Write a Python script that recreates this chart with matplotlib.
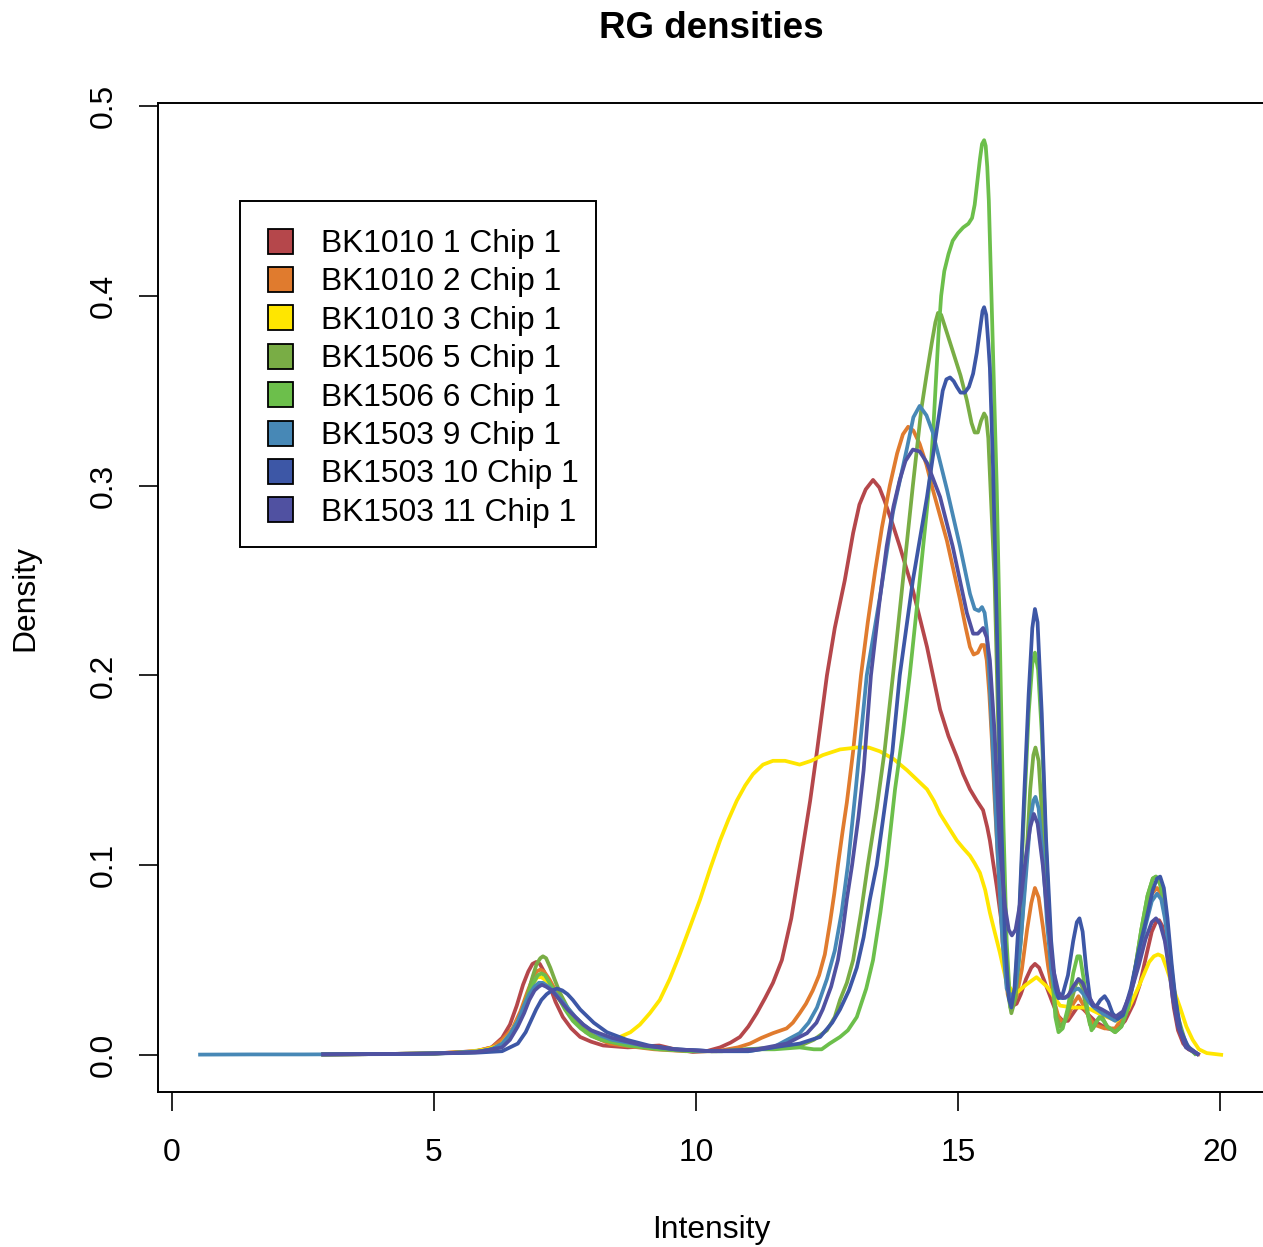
import matplotlib
matplotlib.use("Agg")
import matplotlib.pyplot as plt
import numpy as np
from matplotlib.patches import Rectangle
from matplotlib.transforms import Affine2D

plt.rcParams['font.family'] = ['Liberation Sans', 'DejaVu Sans']

# Density estimates (intensity, density) for each array
bk1010_1 = np.array([
    (2.85, 0.0003), (4.0, 0.0005), (5.0, 0.0008), (5.8, 0.002), (6.1, 0.004),
    (6.3, 0.009), (6.45, 0.016), (6.58, 0.026), (6.7, 0.037), (6.8, 0.044),
    (6.88, 0.048), (6.95, 0.049), (7.02, 0.048), (7.1, 0.044), (7.2, 0.037),
    (7.32, 0.028), (7.46, 0.020), (7.62, 0.014), (7.79, 0.0095), (8.0, 0.007),
    (8.23, 0.005), (8.7, 0.004), (9.0, 0.0045), (9.3, 0.005), (9.6, 0.003),
    (9.94, 0.0016), (10.2, 0.002), (10.46, 0.004), (10.66, 0.0065), (10.84, 0.0095),
    (11.0, 0.015), (11.16, 0.022), (11.32, 0.03), (11.47, 0.038), (11.64, 0.050),
    (11.82, 0.072), (11.98, 0.099), (12.18, 0.134), (12.31, 0.160), (12.5, 0.200),
    (12.65, 0.225), (12.84, 0.250), (13.0, 0.275), (13.12, 0.29), (13.24, 0.298),
    (13.38, 0.303), (13.5, 0.299), (13.6, 0.292), (13.75, 0.28), (13.89, 0.268),
    (14.14, 0.245), (14.41, 0.215), (14.66, 0.182), (14.82, 0.168), (14.98, 0.157),
    (15.1, 0.148), (15.23, 0.140), (15.36, 0.134), (15.48, 0.129), (15.56, 0.12),
    (15.61, 0.113), (15.68, 0.1), (15.74, 0.089), (15.86, 0.064), (15.93, 0.045),
    (15.99, 0.033), (16.05, 0.026), (16.12, 0.027), (16.2, 0.032), (16.3, 0.04),
    (16.4, 0.046), (16.47, 0.048), (16.55, 0.046), (16.65, 0.039), (16.8, 0.028),
    (16.9, 0.021), (17.0, 0.018), (17.1, 0.018), (17.2, 0.022), (17.3, 0.026),
    (17.4, 0.024), (17.5, 0.021), (17.65, 0.017), (17.85, 0.014), (18.03, 0.013),
    (18.19, 0.018), (18.35, 0.027), (18.47, 0.037), (18.6, 0.053), (18.7, 0.065),
    (18.78, 0.07), (18.84, 0.071), (18.9, 0.068), (18.98, 0.057), (19.05, 0.042),
    (19.12, 0.025), (19.2, 0.013), (19.3, 0.006), (19.4, 0.003), (19.62, 0.0),
])

bk1010_2 = np.array([
    (2.85, 0.0003), (4.0, 0.0005), (5.0, 0.0008), (5.8, 0.002), (6.1, 0.004),
    (6.3, 0.008), (6.5, 0.014), (6.65, 0.023), (6.78, 0.033), (6.88, 0.040),
    (6.96, 0.044), (7.03, 0.045), (7.1, 0.044), (7.2, 0.040), (7.3, 0.035),
    (7.4, 0.030), (7.55, 0.024), (7.7, 0.018), (7.9, 0.012), (8.1, 0.009),
    (8.35, 0.006), (8.6, 0.005), (9.2, 0.003), (9.8, 0.002), (10.4, 0.002),
    (10.8, 0.004), (11.03, 0.006), (11.25, 0.009), (11.47, 0.0115), (11.73, 0.014),
    (11.85, 0.017), (11.98, 0.022), (12.1, 0.027), (12.23, 0.034), (12.35, 0.042),
    (12.46, 0.053), (12.56, 0.07), (12.64, 0.085), (12.71, 0.1), (12.8, 0.118),
    (12.88, 0.133), (13.0, 0.16), (13.15, 0.2), (13.28, 0.228), (13.42, 0.255),
    (13.55, 0.278), (13.7, 0.3), (13.84, 0.317), (13.95, 0.327), (14.05, 0.331),
    (14.15, 0.329), (14.27, 0.322), (14.4, 0.311), (14.52, 0.298), (14.79, 0.271),
    (15.04, 0.240), (15.15, 0.225), (15.23, 0.215), (15.3, 0.211), (15.38, 0.212),
    (15.45, 0.216), (15.5, 0.216), (15.55, 0.208), (15.6, 0.19), (15.65, 0.165),
    (15.7, 0.135), (15.75, 0.11), (15.85, 0.06), (15.95, 0.032), (16.03, 0.026),
    (16.12, 0.031), (16.22, 0.045), (16.32, 0.066), (16.4, 0.08), (16.47, 0.088),
    (16.54, 0.083), (16.62, 0.068), (16.72, 0.047), (16.82, 0.03), (16.92, 0.02),
    (17.0, 0.017), (17.1, 0.02), (17.2, 0.027), (17.3, 0.031), (17.4, 0.026),
    (17.5, 0.02), (17.6, 0.016), (17.8, 0.014), (18.0, 0.014), (18.15, 0.02),
    (18.3, 0.033), (18.45, 0.055), (18.58, 0.073), (18.7, 0.085), (18.8, 0.088),
    (18.88, 0.085), (18.95, 0.075), (19.03, 0.055), (19.1, 0.035), (19.2, 0.017),
    (19.35, 0.005), (19.6, 0.0),
])

bk1010_3 = np.array([
    (2.85, 0.0003), (4.0, 0.0005), (5.0, 0.0008), (5.6, 0.0015), (6.0, 0.003),
    (6.26, 0.005), (6.45, 0.011), (6.64, 0.02), (6.8, 0.031), (6.88, 0.037),
    (6.97, 0.041), (7.05, 0.041), (7.15, 0.039), (7.27, 0.034), (7.5, 0.025),
    (7.79, 0.015), (8.05, 0.010), (8.3, 0.008), (8.55, 0.0095), (8.75, 0.012),
    (8.93, 0.016), (9.12, 0.022), (9.31, 0.029), (9.5, 0.04), (9.69, 0.053),
    (9.88, 0.067), (10.08, 0.082), (10.27, 0.098), (10.46, 0.113), (10.62, 0.124),
    (10.78, 0.134), (10.94, 0.142), (11.09, 0.148), (11.28, 0.153), (11.47, 0.155),
    (11.7, 0.155), (11.98, 0.153), (12.2, 0.155), (12.42, 0.158), (12.75, 0.161),
    (13.07, 0.162), (13.3, 0.162), (13.51, 0.160), (13.77, 0.156), (14.03, 0.150),
    (14.22, 0.145), (14.41, 0.140), (14.54, 0.134), (14.66, 0.127), (14.82, 0.120),
    (14.98, 0.113), (15.1, 0.109), (15.23, 0.105), (15.32, 0.101), (15.42, 0.096),
    (15.52, 0.087), (15.61, 0.075), (15.7, 0.065), (15.8, 0.054), (15.93, 0.038),
    (16.03, 0.034), (16.13, 0.033), (16.3, 0.037), (16.5, 0.041), (16.7, 0.036),
    (16.95, 0.026), (17.2, 0.025), (17.46, 0.025), (17.75, 0.021), (18.03, 0.018),
    (18.25, 0.024), (18.45, 0.036), (18.65, 0.049), (18.74, 0.052), (18.82, 0.053),
    (18.9, 0.052), (18.98, 0.046), (19.1, 0.036), (19.24, 0.025), (19.36, 0.015),
    (19.48, 0.008), (19.6, 0.003), (19.75, 0.001), (20.06, 0.0),
])

bk1506_5 = np.array([
    (2.85, 0.0003), (4.0, 0.0005), (5.0, 0.0008), (5.8, 0.0015), (6.1, 0.003),
    (6.3, 0.005), (6.5, 0.011), (6.65, 0.02), (6.78, 0.031), (6.88, 0.041),
    (6.96, 0.048), (7.03, 0.051), (7.08, 0.052), (7.14, 0.051), (7.22, 0.046),
    (7.3, 0.040), (7.4, 0.033), (7.55, 0.025), (7.7, 0.019), (7.8, 0.016),
    (8.0, 0.011), (8.2, 0.008), (8.7, 0.005), (9.3, 0.004), (9.9, 0.002),
    (10.5, 0.002), (11.0, 0.003), (11.5, 0.004), (12.0, 0.005), (12.25, 0.008),
    (12.5, 0.013), (12.65, 0.02), (12.75, 0.029), (12.88, 0.038), (13.0, 0.05),
    (13.15, 0.075), (13.28, 0.1), (13.45, 0.13), (13.6, 0.16), (13.76, 0.2),
    (13.95, 0.25), (14.14, 0.3), (14.3, 0.34), (14.4, 0.358), (14.5, 0.375),
    (14.57, 0.386), (14.62, 0.391), (14.68, 0.39), (14.75, 0.384), (14.9, 0.371),
    (15.05, 0.358), (15.17, 0.345), (15.26, 0.333), (15.32, 0.328), (15.38, 0.328),
    (15.44, 0.334), (15.5, 0.338), (15.54, 0.336), (15.58, 0.325), (15.62, 0.3),
    (15.66, 0.275), (15.7, 0.25), (15.8, 0.14), (15.9, 0.06), (15.97, 0.03),
    (16.02, 0.022), (16.1, 0.03), (16.2, 0.06), (16.3, 0.1), (16.38, 0.14),
    (16.44, 0.158), (16.48, 0.162), (16.54, 0.155), (16.62, 0.12), (16.7, 0.08),
    (16.8, 0.04), (16.88, 0.02), (16.95, 0.015), (17.05, 0.018), (17.15, 0.027),
    (17.25, 0.037), (17.3, 0.04), (17.37, 0.036), (17.45, 0.025), (17.52, 0.016),
    (17.58, 0.014), (17.68, 0.019), (17.75, 0.02), (17.85, 0.015), (18.0, 0.012),
    (18.12, 0.015), (18.25, 0.025), (18.38, 0.045), (18.5, 0.066), (18.62, 0.084),
    (18.72, 0.093), (18.78, 0.094), (18.86, 0.09), (18.95, 0.078), (19.03, 0.058),
    (19.1, 0.04), (19.2, 0.02), (19.35, 0.006), (19.55, 0.0),
])

bk1506_6 = np.array([
    (2.85, 0.0003), (4.0, 0.0005), (5.0, 0.0008), (5.8, 0.0015), (6.1, 0.003),
    (6.3, 0.005), (6.5, 0.011), (6.65, 0.02), (6.78, 0.03), (6.9, 0.038),
    (6.98, 0.042), (7.05, 0.043), (7.12, 0.042), (7.25, 0.036), (7.38, 0.030),
    (7.5, 0.024), (7.65, 0.018), (7.8, 0.014), (8.0, 0.01), (8.2, 0.008),
    (8.7, 0.005), (9.3, 0.003), (9.9, 0.002), (10.5, 0.002), (11.0, 0.003),
    (11.5, 0.003), (11.98, 0.004), (12.25, 0.003), (12.4, 0.003), (12.55, 0.006),
    (12.75, 0.0095), (12.9, 0.013), (13.07, 0.02), (13.25, 0.035), (13.38, 0.05),
    (13.52, 0.075), (13.64, 0.1), (13.8, 0.14), (13.95, 0.17), (14.08, 0.2),
    (14.27, 0.25), (14.4, 0.285), (14.47, 0.305), (14.53, 0.33), (14.58, 0.355),
    (14.63, 0.38), (14.68, 0.4), (14.74, 0.413), (14.82, 0.422), (14.9, 0.429),
    (15.0, 0.433), (15.1, 0.436), (15.2, 0.438), (15.27, 0.441), (15.32, 0.448),
    (15.37, 0.46), (15.42, 0.472), (15.46, 0.48), (15.5, 0.482), (15.53, 0.479),
    (15.56, 0.468), (15.59, 0.45), (15.62, 0.42), (15.66, 0.38), (15.7, 0.34),
    (15.74, 0.3), (15.8, 0.22), (15.87, 0.12), (15.93, 0.06), (16.0, 0.025),
    (16.07, 0.03), (16.15, 0.06), (16.25, 0.12), (16.35, 0.18), (16.42, 0.206),
    (16.47, 0.212), (16.53, 0.203), (16.6, 0.17), (16.68, 0.11), (16.78, 0.05),
    (16.86, 0.02), (16.92, 0.012), (17.0, 0.014), (17.1, 0.025), (17.2, 0.043),
    (17.28, 0.052), (17.33, 0.052), (17.4, 0.04), (17.48, 0.022), (17.55, 0.013),
    (17.63, 0.017), (17.7, 0.02), (17.78, 0.018), (17.85, 0.015), (18.0, 0.012),
    (18.12, 0.015), (18.25, 0.025), (18.38, 0.045), (18.5, 0.066), (18.62, 0.084),
    (18.72, 0.093), (18.78, 0.094), (18.86, 0.09), (18.95, 0.078), (19.03, 0.058),
    (19.1, 0.038), (19.2, 0.018), (19.35, 0.005), (19.55, 0.0),
])

bk1503_9 = np.array([
    (0.5, 0.0002), (1.5, 0.0003), (2.5, 0.0003), (3.5, 0.0004), (4.5, 0.0005),
    (5.3, 0.001), (5.9, 0.002), (6.1, 0.003), (6.3, 0.006), (6.45, 0.011),
    (6.6, 0.018), (6.72, 0.026), (6.82, 0.032), (6.92, 0.036), (7.0, 0.038),
    (7.08, 0.038), (7.18, 0.036), (7.3, 0.033), (7.4, 0.030), (7.55, 0.025),
    (7.7, 0.020), (7.85, 0.016), (8.0, 0.013), (8.2, 0.010), (8.4, 0.008),
    (9.0, 0.005), (9.6, 0.003), (10.3, 0.002), (11.0, 0.002), (11.47, 0.004),
    (11.98, 0.0115), (12.15, 0.017), (12.31, 0.025), (12.5, 0.04), (12.65, 0.055),
    (12.78, 0.075), (12.9, 0.1), (13.05, 0.14), (13.26, 0.2), (13.51, 0.241),
    (13.76, 0.286), (14.03, 0.32), (14.15, 0.336), (14.27, 0.342), (14.4, 0.337),
    (14.52, 0.328), (14.79, 0.298), (15.04, 0.268), (15.23, 0.243), (15.32, 0.235),
    (15.4, 0.234), (15.46, 0.236), (15.51, 0.233), (15.55, 0.224), (15.6, 0.2),
    (15.65, 0.17), (15.75, 0.11), (15.85, 0.06), (15.93, 0.035), (16.02, 0.03),
    (16.1, 0.035), (16.2, 0.06), (16.3, 0.095), (16.38, 0.123), (16.44, 0.134),
    (16.48, 0.136), (16.54, 0.13), (16.62, 0.105), (16.7, 0.07), (16.78, 0.045),
    (16.86, 0.033), (16.92, 0.03), (17.05, 0.03), (17.2, 0.034), (17.3, 0.035),
    (17.4, 0.032), (17.5, 0.028), (17.6, 0.025), (17.75, 0.022), (18.0, 0.018),
    (18.15, 0.021), (18.3, 0.032), (18.45, 0.05), (18.58, 0.068), (18.7, 0.081),
    (18.8, 0.085), (18.88, 0.082), (18.95, 0.072), (19.03, 0.055), (19.1, 0.036),
    (19.2, 0.018), (19.35, 0.005), (19.6, 0.0),
])

bk1503_10 = np.array([
    (2.85, 0.0003), (4.0, 0.0005), (5.0, 0.0008), (5.8, 0.0012), (6.3, 0.002),
    (6.6, 0.006), (6.75, 0.012), (6.85, 0.018), (6.95, 0.024), (7.05, 0.029),
    (7.15, 0.032), (7.25, 0.034), (7.35, 0.035), (7.45, 0.034), (7.55, 0.032),
    (7.65, 0.029), (7.79, 0.024), (8.05, 0.017), (8.3, 0.012), (8.68, 0.008),
    (9.1, 0.005), (9.6, 0.003), (10.3, 0.002), (11.0, 0.002), (11.47, 0.004),
    (11.98, 0.006), (12.37, 0.0095), (12.6, 0.017), (12.75, 0.024), (12.92, 0.034),
    (13.07, 0.046), (13.2, 0.062), (13.32, 0.082), (13.45, 0.1), (13.6, 0.13),
    (13.75, 0.16), (13.89, 0.2), (14.14, 0.25), (14.41, 0.294), (14.6, 0.33),
    (14.71, 0.350), (14.78, 0.356), (14.85, 0.357), (14.92, 0.355), (14.98, 0.352),
    (15.05, 0.349), (15.13, 0.349), (15.21, 0.352), (15.29, 0.359), (15.36, 0.37),
    (15.42, 0.382), (15.47, 0.392), (15.5, 0.394), (15.54, 0.39), (15.58, 0.375),
    (15.61, 0.362), (15.67, 0.31), (15.74, 0.23), (15.82, 0.13), (15.9, 0.06),
    (15.97, 0.03), (16.02, 0.025), (16.08, 0.035), (16.17, 0.075), (16.27, 0.14),
    (16.35, 0.19), (16.42, 0.225), (16.47, 0.235), (16.52, 0.228), (16.6, 0.18),
    (16.68, 0.115), (16.78, 0.06), (16.86, 0.036), (16.92, 0.03), (17.0, 0.032),
    (17.1, 0.042), (17.2, 0.06), (17.27, 0.07), (17.32, 0.072), (17.38, 0.065),
    (17.45, 0.045), (17.52, 0.03), (17.57, 0.026), (17.65, 0.026), (17.72, 0.029),
    (17.8, 0.031), (17.87, 0.028), (17.95, 0.022), (18.05, 0.019), (18.15, 0.021),
    (18.3, 0.035), (18.45, 0.055), (18.6, 0.072), (18.72, 0.087), (18.8, 0.093),
    (18.86, 0.094), (18.93, 0.088), (19.0, 0.072), (19.08, 0.048), (19.15, 0.03),
    (19.25, 0.013), (19.4, 0.004), (19.6, 0.0),
])

bk1503_11 = np.array([
    (2.85, 0.0003), (4.0, 0.0005), (5.0, 0.0008), (5.8, 0.0015), (6.3, 0.004),
    (6.45, 0.008), (6.6, 0.015), (6.72, 0.022), (6.82, 0.029), (6.92, 0.034),
    (7.0, 0.036), (7.06, 0.037), (7.14, 0.036), (7.25, 0.034), (7.4, 0.029),
    (7.55, 0.024), (7.7, 0.020), (7.85, 0.016), (8.0, 0.013), (8.2, 0.011),
    (8.4, 0.009), (9.0, 0.005), (9.6, 0.003), (10.3, 0.002), (11.16, 0.003),
    (11.73, 0.006), (12.12, 0.0115), (12.3, 0.017), (12.42, 0.024), (12.58, 0.036),
    (12.71, 0.05), (12.8, 0.065), (12.88, 0.082), (12.98, 0.1), (13.1, 0.125),
    (13.2, 0.15), (13.34, 0.2), (13.5, 0.238), (13.64, 0.268), (13.77, 0.289),
    (13.89, 0.303), (14.0, 0.313), (14.14, 0.319), (14.27, 0.318), (14.41, 0.312),
    (14.66, 0.294), (14.9, 0.268), (15.17, 0.233), (15.29, 0.222), (15.38, 0.222),
    (15.48, 0.225), (15.55, 0.22), (15.61, 0.208), (15.7, 0.17), (15.8, 0.11),
    (15.9, 0.078), (15.97, 0.066), (16.03, 0.063), (16.1, 0.066), (16.2, 0.082),
    (16.3, 0.105), (16.38, 0.12), (16.45, 0.127), (16.52, 0.122), (16.62, 0.1),
    (16.72, 0.07), (16.82, 0.045), (16.92, 0.033), (17.0, 0.03), (17.1, 0.031),
    (17.2, 0.036), (17.3, 0.04), (17.38, 0.038), (17.45, 0.033), (17.6, 0.026),
    (17.75, 0.024), (18.0, 0.02), (18.15, 0.023), (18.3, 0.033), (18.45, 0.047),
    (18.58, 0.061), (18.7, 0.07), (18.78, 0.072), (18.86, 0.069), (18.95, 0.06),
    (19.03, 0.045), (19.1, 0.03), (19.2, 0.015), (19.35, 0.004), (19.6, 0.0),
])

labels = ["BK1010 1 Chip 1", "BK1010 2 Chip 1", "BK1010 3 Chip 1",
          "BK1506 5 Chip 1", "BK1506 6 Chip 1", "BK1503 9 Chip 1",
          "BK1503 10 Chip 1", "BK1503 11 Chip 1"]
colors = ["#B5474B", "#E07B2E", "#FFE600", "#79AD45",
          "#6CBF4B", "#4788B6", "#3D57A6", "#5051A1"]
series = [bk1010_1, bk1010_2, bk1010_3, bk1506_5,
          bk1506_6, bk1503_9, bk1503_10, bk1503_11]

x_ticks = [0, 5, 10, 15, 20]
y_ticks = [0.0, 0.1, 0.2, 0.3, 0.4, 0.5]

W, H = 1263, 1247
FS = 22.9

fig = plt.figure(figsize=(W / 100, H / 100), dpi=100)
ax = fig.add_axes([158 / W, 1 - 1092 / H, (1266 - 158) / W, (1092 - 103) / H])

for data, col in zip(series, colors):
    ax.plot(data[:, 0], data[:, 1], color=col, lw=2.7,
            solid_joinstyle='round', solid_capstyle='butt')

ax.set_xlim(-0.267, 20.88)
ax.set_ylim(-0.0195, 0.5016)
ax.set_xticks(x_ticks)
ax.set_xticklabels([f"{t:d}" for t in x_ticks])
ax.set_yticks(y_ticks)
ax.set_yticklabels([f"{t:.1f}" for t in y_ticks])
ax.tick_params(direction='out', length=13.5, width=1.2, labelsize=FS,
               colors='black')
ax.tick_params(axis='x', pad=19.5)
ax.tick_params(axis='y', pad=15, labelrotation=90)
for lbl in ax.get_yticklabels():
    lbl.set_verticalalignment('center')
for sp in ax.spines.values():
    sp.set_linewidth(1.4)
    sp.set_color('black')

# pixel-space helper for annotations
pix = Affine2D().scale(1 / W, -1 / H).translate(0, 1) + fig.transFigure

fig.text(711, 28, "RG densities", transform=pix, ha='center', va='center',
         fontsize=26.5, fontweight='bold')
fig.text(711, 1230, "Intensity", transform=pix, ha='center', va='center',
         fontsize=FS)
fig.text(25, 598, "Density", transform=pix, ha='center', va='center',
         rotation=90, fontsize=FS)

# legend box
fig.add_artist(Rectangle((240, 201), 356, 346, transform=pix, fill=False,
                         edgecolor='black', lw=1.4))
for i, (lab, col) in enumerate(zip(labels, colors)):
    yc = 241 + i * 38.4
    fig.add_artist(Rectangle((268, yc - 12.5), 25, 25, transform=pix,
                             facecolor=col, edgecolor='black', lw=1.3))
    fig.text(321, yc + 11, lab, transform=pix, ha='left', va='baseline',
             fontsize=FS)

fig.savefig("out.png", dpi=100, facecolor='white')
